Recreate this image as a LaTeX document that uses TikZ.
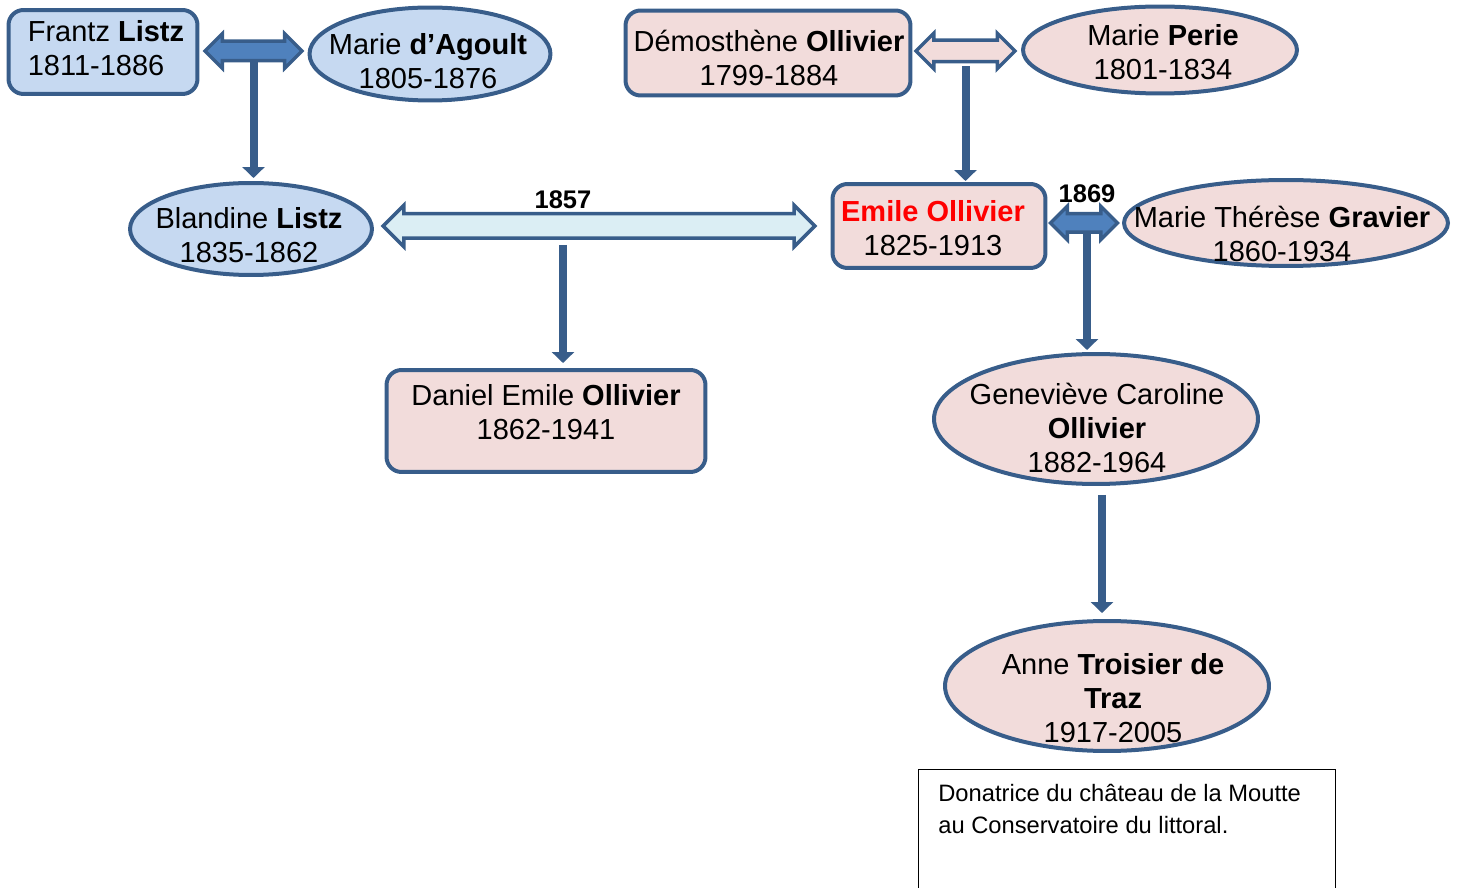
\documentclass[tikz,border=0pt]{standalone}
\usepackage{fontspec}
\setmainfont{Liberation Sans}
\usetikzlibrary{arrows.meta,shapes.geometric,shapes.arrows}

\definecolor{edgeblue}{HTML}{385D8A}
\definecolor{bluefill}{HTML}{C6D9F1}
\definecolor{pinkfill}{HTML}{F2DCDB}
\definecolor{midblue}{HTML}{4F81BD}
\definecolor{paleblue}{HTML}{DBEEF4}

\tikzset{
	person/.style={draw=edgeblue, line width=0.08cm, inner sep=0},
	bluebox/.style={person, fill=bluefill, rounded corners=0.3cm},
	pinkbox/.style={person, fill=pinkfill, rounded corners=0.3cm},
	blueoval/.style={person, fill=bluefill, ellipse},
	pinkoval/.style={person, fill=pinkfill, ellipse},
	who/.style={font=\fontsize{16.5}{19.3}\selectfont, align=center, inner sep=0},
	marriage/.style={double arrow, draw=edgeblue, line width=0.07cm, inner xsep=0},
	stem/.style={draw=edgeblue, line width=0.16cm, -{Triangle[width=0.44cm, length=0.22cm]}},
	yearlbl/.style={font=\fontsize{14.5}{16}\selectfont\bfseries, inner sep=0},
	notebox/.style={draw=black, line width=0.02cm, inner sep=0},
	notetext/.style={font=\fontsize{13.5}{18.2}\selectfont, align=left, inner sep=0},
}

\begin{document}
\begin{tikzpicture}[x=0.02cm, y=-0.02cm]
		%%%%% START %%%%%
		
		\useasboundingbox (0, 0) rectangle (1465, 888);
		
		\node[bluebox, minimum width=3.78cm, minimum height=1.68cm] (frantz) at (103, 52) {};
		\node[who, align=left] (frantz-t) at (106, 48) {Frantz \textbf{Listz}\\1811-1886};
		\node[blueoval, minimum width=4.82cm, minimum height=1.86cm] (agoult) at (430, 54) {};
		\node[who] (agoult-t) at (428, 61) {Marie \textbf{d’Agoult}\\1805-1876};
		\node[blueoval, minimum width=4.84cm, minimum height=1.84cm] (blandine) at (251, 229) {};
		\node[who] (blandine-t) at (249, 235) {Blandine \textbf{Listz}\\1835-1862};
		
		\node[pinkbox, minimum width=5.7cm, minimum height=1.7cm] (demos) at (768, 53) {};
		\node[who] (demos-t) at (769, 58) {Démosthène \textbf{Ollivier}\\1799-1884};
		\node[pinkoval, minimum width=5.48cm, minimum height=1.74cm] (perie) at (1160, 50) {};
		\node[who] (perie-t) at (1163, 52) {Marie \textbf{Perie}\\1801-1834};
		
		\node[pinkbox, minimum width=4.26cm, minimum height=1.68cm] (emile) at (939, 226) {};
		\node[who] (emile-t) at (933, 228) {\textcolor{red}{\textbf{Emile Ollivier}}\\1825-1913};
		\node[pinkoval, minimum width=6.48cm, minimum height=1.72cm] (gravier) at (1286, 223) {};
		\node[who] (gravier-t) at (1282, 234) {Marie Thérèse \textbf{Gravier}\\1860-1934};
		
		\node[pinkbox, minimum width=6.38cm, minimum height=2.04cm] (daniel) at (546, 421) {};
		\node[who] (daniel-t) at (546, 412) {Daniel Emile \textbf{Ollivier}\\1862-1941};
		\node[pinkoval, minimum width=6.48cm, minimum height=2.6cm] (genevieve) at (1096, 419) {};
		\node[who] (genevieve-t) at (1097, 428) {Geneviève Caroline\\\textbf{Ollivier}\\1882-1964};
		\node[pinkoval, minimum width=6.48cm, minimum height=2.6cm] (anne) at (1107, 686) {};
		\node[who] (anne-t) at (1113, 698) {Anne \textbf{Troisier de}\\\textbf{Traz}\\1917-2005};
		
		% marriages
		\node[marriage, fill=midblue, minimum height=1.94cm, inner ysep=0.16cm, double arrow head extend=0.15cm] (lovelistz) at (253.5, 51) {};
		\node[marriage, fill=paleblue, minimum height=8.64cm, inner ysep=0.21cm, double arrow head extend=0.17cm] (m1857) at (599, 226) {};
		\node[yearlbl] (y1857) at (563, 200) {1857};
		\node[marriage, fill=pinkfill, minimum height=1.98cm, inner ysep=0.18cm, double arrow head extend=0.14cm] (lovedemos) at (965.5, 51) {};
		\node[marriage, fill=midblue, minimum height=1.34cm, inner ysep=0.15cm, double arrow head extend=0.15cm] (m1869) at (1084, 223) {};
		\node[yearlbl] (y1869) at (1087, 194) {1869};
		
		% children
		\draw[stem, shorten >=0.06cm] (lovelistz.south) -- (lovelistz.south |- blandine.north);
		\draw[stem, shorten <=0.1cm, shorten >=0.1cm] ([xshift=-0.72cm]m1857.south) -- ([xshift=-0.72cm]m1857.south |- daniel.north);
		\draw[stem, shorten <=0.06cm, shorten >=0.02cm] (lovedemos.south) -- (lovedemos.south |- emile.north);
		\draw[stem, shorten >=0.04cm] ([xshift=0.06cm]m1869.south) -- ([xshift=0.06cm]m1869.south |- genevieve.north);
		\draw[stem, shorten <=0.18cm, shorten >=0.12cm] ([xshift=0.12cm]genevieve.south) -- ([xshift=0.12cm]genevieve.south |- anne.north);
		
		\node[notebox, minimum width=8.34cm, minimum height=2.62cm, anchor=north west] (note) at (918, 769) {};
		\node[notetext, anchor=north west] (note-t) at (938, 784) {Donatrice du château de la Moutte\\au Conservatoire du littoral.};
		
		%%%%% END %%%%%
	\end{tikzpicture}
\end{document}
